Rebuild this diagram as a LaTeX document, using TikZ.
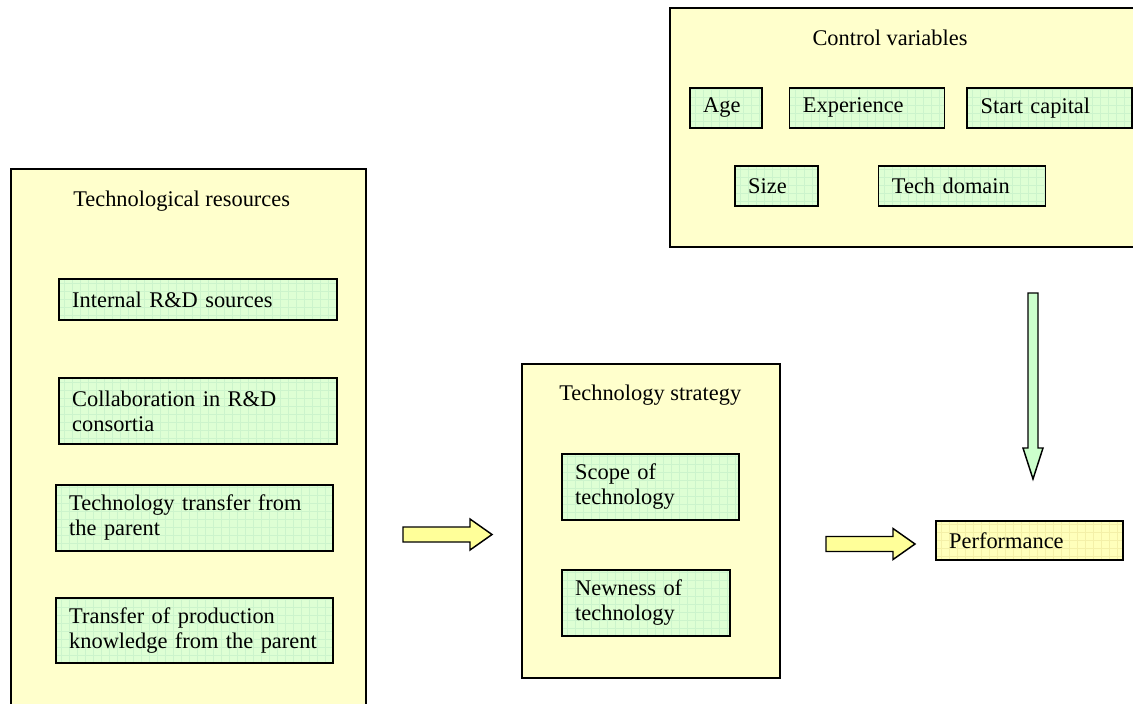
\documentclass[tikz,border=0pt]{standalone}
\usepackage{fontspec}
\setmainfont{Liberation Serif}
\usetikzlibrary{positioning}
\definecolor{paneyellow}{RGB}{255,255,204}
\definecolor{boxgreen}{RGB}{222,255,212}
\definecolor{gridgreen}{RGB}{204,244,204}
\definecolor{perfyellow}{RGB}{255,255,187}
\definecolor{gridyellow}{RGB}{244,240,168}
\definecolor{arrowyellow}{RGB}{255,255,153}
\definecolor{arrowgreen}{RGB}{204,255,204}

\begin{document}
\begin{tikzpicture}[x=0.75pt, y=-0.75pt,
  font=\fontsize{16.8pt}{18.8pt}\selectfont,
  panel/.style={draw, line width=1.4pt, fill=paneyellow, anchor=north west, inner sep=0pt},
  title/.style={inner sep=0pt},
  item/.style={draw, line width=1.3pt, fill=boxgreen, anchor=north west, align=left,
    inner xsep=10pt, inner ysep=2pt,
    path picture={\draw[gridgreen, line width=0.4pt] (path picture bounding box.south west) grid[step=6pt] (path picture bounding box.north east);}},
  outcome/.style={item, fill=perfyellow,
    path picture={\draw[gridyellow, line width=0.4pt] (path picture bounding box.south west) grid[step=6pt] (path picture bounding box.north east);}},
  boxdim/.style n args={3}{minimum width=#1, text width=#2, minimum height=#3},
  blockarrow/.style={draw, line width=1.1pt, line join=miter},
  fwdarrow/.pic={\draw[blockarrow, fill=arrowyellow] (0,-7.5) -- (67,-7.5) -- (67,-15.5) -- (89,0) -- (67,15.5) -- (67,7.5) -- (0,7.5) -- cycle;},
  downarrow/.pic={\draw[blockarrow, fill=arrowgreen] (-5,0) -- (-5,155) -- (-10,155) -- (0,186) -- (10,155) -- (5,155) -- (5,0) -- cycle;}]
\useasboundingbox (0,0) rectangle (1133,704);
\clip (0,0) rectangle (1133,704);

% Technological resources
\node[panel, minimum width=266.25pt, minimum height=420pt] (res) at (10,168) {};
\node[title, anchor=west] (restitle) at (73,201) {Technological resources};
\node[item, boxdim={208.5pt}{188.5pt}{30.75pt}] (rd) at (58,278) {Internal R\&D sources};
\node[item, boxdim={208.5pt}{188.5pt}{49.5pt}] (consort) at (58,377) {Collaboration in R\&D\\consortia};
\node[item, boxdim={207.75pt}{187.75pt}{49.5pt}] (parent) at (55,484) {Technology transfer from\\the parent};
\node[item, boxdim={207.75pt}{187.75pt}{48.75pt}] (prod) at (55,597) {Transfer of production\\knowledge from the parent};

% Technology strategy
\node[panel, minimum width=193.5pt, minimum height=235.5pt] (strat) at (521,363) {};
\node[title, anchor=west] (strattitle) at (559,395) {Technology strategy};
\node[item, boxdim={132.75pt}{112.75pt}{49.5pt}] (scope) at (561,453) {Scope of\\technology};
\node[item, boxdim={126pt}{106pt}{49.5pt}] (newness) at (561,569) {Newness of\\technology};

% Control variables
\node[panel, minimum width=352.5pt, minimum height=179.25pt] (ctrl) at (669,7) {};
\node[title] (ctrltitle) at (890,38) {Control variables};
\node[item, boxdim={54pt}{34pt}{30pt}] (age) at (689,87) {Age};
\node[item, boxdim={116.25pt}{96.25pt}{30pt}, right=19.5pt of age.north east, anchor=north west] (exper) {Experience};
\node[item, boxdim={123.75pt}{103.75pt}{30pt}, right=15.75pt of exper.north east, anchor=north west] (capital) {Start capital};
\node[item, boxdim={62.25pt}{42.25pt}{30pt}] (size) at (734,165) {Size};
\node[item, boxdim={125.25pt}{105.25pt}{30pt}, right=44.25pt of size.north east, anchor=north west] (domain) {Tech domain};

% Performance
\node[outcome, boxdim={140.25pt}{120.25pt}{29.25pt}] (perf) at (935,520) {Performance};

% Arrows
\pic (resarrow) at (403,534.5) {fwdarrow};
\pic (stratarrow) at (826,544) {fwdarrow};
\pic (ctrlarrow) at (1033,293) {downarrow};
\end{tikzpicture}
\end{document}
